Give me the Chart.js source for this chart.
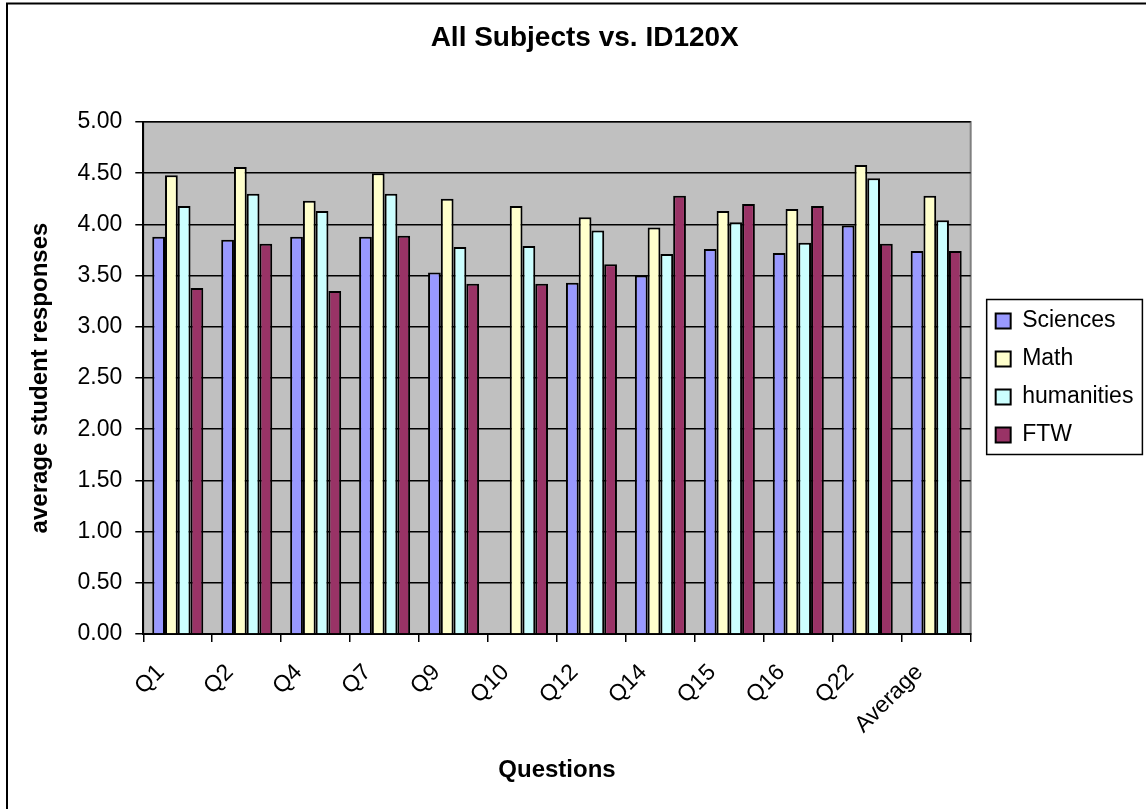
<!DOCTYPE html>
<html>
<head>
<meta charset="utf-8">
<script src="https://cdn.jsdelivr.net/npm/chart.js@4.4.1/dist/chart.umd.min.js"></script>
<style>
  html, body { margin: 0; padding: 0; background: #ffffff; }
  #wrap { width: 1146px; height: 809px; }
</style>
</head>
<body>
<div id="wrap"><canvas id="chart" width="1146" height="809"></canvas></div>
<script>
// Average student responses per question, by subject group
const questions  = ['Q1', 'Q2', 'Q4', 'Q7', 'Q9', 'Q10', 'Q12', 'Q14', 'Q15', 'Q16', 'Q22', 'Average'];
const sciences   = [3.88, 3.85, 3.88, 3.88, 3.53, null, 3.43, 3.50, 3.76, 3.72, 3.99, 3.74];
const math       = [4.48, 4.56, 4.23, 4.50, 4.25, 4.18, 4.07, 3.97, 4.13, 4.15, 4.58, 4.28];
const humanities = [4.18, 4.30, 4.13, 4.30, 3.78, 3.79, 3.94, 3.71, 4.02, 3.82, 4.45, 4.04];
const ftw        = [3.38, 3.81, 3.35, 3.89, 3.42, 3.42, 3.61, 4.28, 4.20, 4.18, 3.81, 3.74];

const seriesNames  = ['Sciences', 'Math', 'humanities', 'FTW'];
const seriesColors = ['#9999FF', '#FFFFCC', '#CCFFFF', '#993366'];
const seriesValues = [sciences, math, humanities, ftw];

const yMin = 0, yMax = 5, yStep = 0.5;

const FONT = '"Liberation Sans", Arial, Helvetica, sans-serif';

// White page, outer frame, grey plot background with its border
const framePlugin = {
  id: 'frame',
  beforeDraw(chart) {
    const ctx = chart.ctx;
    const a = chart.chartArea;
    ctx.save();
    ctx.fillStyle = '#ffffff';
    ctx.fillRect(0, 0, chart.width, chart.height);
    ctx.strokeStyle = '#000000';
    ctx.lineWidth = 2;
    ctx.beginPath();
    ctx.moveTo(7, chart.height);
    ctx.lineTo(7, 3.5);
    ctx.lineTo(chart.width, 3.5);
    ctx.stroke();
    ctx.fillStyle = '#C0C0C0';
    ctx.fillRect(a.left, a.top, a.right - a.left, a.bottom - a.top);
    ctx.strokeStyle = '#808080';
    ctx.lineWidth = 2;
    ctx.strokeRect(a.left, a.top, a.right - a.left, a.bottom - a.top);
    ctx.restore();
  },
  afterLayout(chart) {
    // title sits centred over the full chart object, legend a little off the plot
    const t = chart.titleBlock;
    if (t) { t.left += 18; t.right += 18; }
    const lg = chart.legend;
    if (lg) { lg.left += 10; lg.right += 10; }
  },
  afterDraw(chart) {
    const lg = chart.legend;
    if (!lg || !lg.legendHitBoxes || !lg.legendHitBoxes.length) return;
    const hb = lg.legendHitBoxes;
    const left = hb[0].left - 9;
    const top = hb[0].top - 10;
    let right = 0;
    hb.forEach(h => { right = Math.max(right, h.left + h.width); });
    right += 9;
    const last = hb[hb.length - 1];
    const bottom = last.top + last.height + 8;
    const ctx = chart.ctx;
    ctx.save();
    ctx.strokeStyle = '#000000';
    ctx.lineWidth = 1.5;
    ctx.strokeRect(left, top, right - left, bottom - top);
    ctx.restore();
  }
};

new Chart(document.getElementById('chart'), {
  type: 'bar',
  data: {
    labels: questions,
    datasets: seriesNames.map((name, i) => ({
      label: name,
      data: seriesValues[i],
      backgroundColor: seriesColors[i],
      borderColor: '#000000',
      borderWidth: 2,
      categoryPercentage: 0.74,
      barPercentage: 1.0
    }))
  },
  options: {
    responsive: false,
    animation: false,
    devicePixelRatio: 1,
    layout: { padding: { left: 0, top: 0, right: 12.6, bottom: 0 } },
    plugins: {
      title: {
        display: true,
        text: 'All Subjects vs. ID120X',
        color: '#000000',
        font: { family: FONT, size: 28, weight: 'bold' },
        padding: { top: 21, bottom: 67.4 }
      },
      legend: {
        position: 'right',
        fullSize: false,
        align: 'center',
        labels: {
          boxWidth: 15,
          boxHeight: 15,
          padding: 15,
          color: '#000000',
          font: { family: FONT, size: 23 }
        }
      },
      tooltip: { enabled: false }
    },
    scales: {
      x: {
        grid: {
          display: true,
          drawOnChartArea: false,
          drawTicks: true,
          tickLength: 8,
          color: '#000000',
          lineWidth: 1.5
        },
        border: { display: true, color: '#000000', width: 2 },
        ticks: {
          color: '#000000',
          font: { family: FONT, size: 23 },
          minRotation: 45,
          maxRotation: 45,
          autoSkip: false,
          padding: 17,
          labelOffset: -17
        },
        title: {
          display: true,
          text: 'Questions',
          color: '#000000',
          font: { family: FONT, size: 24, weight: 'bold' },
          padding: { top: 24, bottom: 24 }
        },
        afterFit(scale) { scale.height = 175; }
      },
      y: {
        min: yMin,
        max: yMax,
        grid: {
          color: '#000000',
          lineWidth: 1.5,
          tickLength: 8,
          drawTicks: true
        },
        border: { display: true, color: '#000000', width: 2 },
        ticks: {
          stepSize: yStep,
          color: '#000000',
          padding: 13,
          font: { family: FONT, size: 23 },
          callback: v => Number(v).toFixed(2)
        },
        title: {
          display: true,
          text: 'average student responses',
          color: '#000000',
          font: { family: FONT, size: 24, weight: 'bold' },
          padding: { top: 26, bottom: 26 }
        },
        afterFit(scale) { scale.width = 143.3; }
      }
    }
  },
  plugins: [framePlugin]
});
</script>
</body>
</html>
